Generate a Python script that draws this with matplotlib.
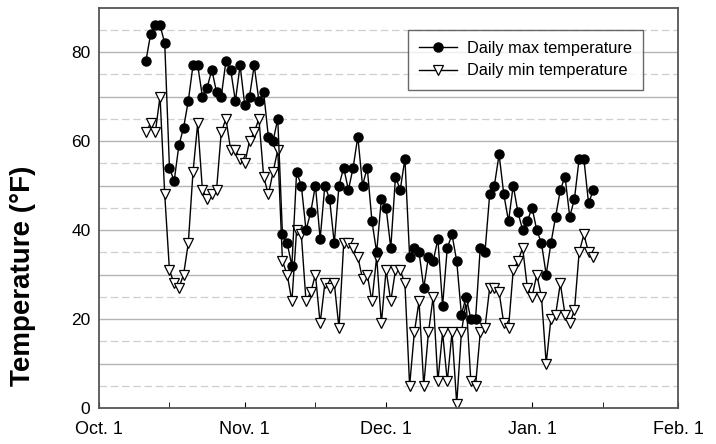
"""Daily max / min air temperature, Oct 1 through Feb 1."""
import datetime as dt

import matplotlib
matplotlib.use("Agg")
import matplotlib.pyplot as plt

plt.rcParams["font.family"] = ["Liberation Sans", "DejaVu Sans"]

# first record is Oct 11, one record per day after that
START = dt.date(2001, 10, 11)

tmax = [78, 84, 86, 86, 82, 54, 51, 59, 63, 69,
        77, 77, 70, 72, 76, 71, 70, 78, 76, 69,
        77, 68, 70, 77, 69, 71, 61, 60, 65, 39,
        37, 32, 53, 50, 40, 44, 50, 38, 50, 47,
        37, 50, 54, 49, 54, 61, 50, 54, 42, 35,
        47, 45, 36, 52, 49, 56, 34, 36, 35, 27,
        34, 33, 38, 23, 36, 39, 33, 21, 25, 20,
        20, 36, 35, 48, 50, 57, 48, 42, 50, 44,
        40, 42, 45, 40, 37, 30, 37, 43, 49, 52,
        43, 47, 56, 56, 46, 49]

tmin = [62, 64, 62, 70, 48, 31, 28, 27, 30, 37,
        53, 64, 49, 47, 48, 49, 62, 65, 58, 58,
        56, 55, 60, 62, 65, 52, 48, 53, 58, 33,
        30, 24, 40, 39, 24, 26, 30, 19, 28, 27,
        28, 18, 37, 37, 36, 34, 29, 30, 24, 34,
        19, 31, 24, 31, 31, 28, 5, 17, 24, 5,
        17, 25, 6, 17, 6, 17, 1, 17, 24, 6,
        5, 17, 18, 27, 27, 26, 19, 18, 31, 33,
        36, 27, 25, 30, 25, 10, 20, 21, 28, 21,
        19, 22, 35, 39, 35, 34]

days = [START + dt.timedelta(days=i) for i in range(len(tmax))]

month_ticks = [dt.date(2001, 10, 1), dt.date(2001, 11, 1), dt.date(2001, 12, 1),
               dt.date(2002, 1, 1), dt.date(2002, 2, 1)]
month_labels = ["Oct. 1", "Nov. 1", "Dec. 1", "Jan. 1", "Feb. 1"]
mid_ticks = [dt.date(2001, 10, 16), dt.date(2001, 11, 16), dt.date(2001, 12, 16),
             dt.date(2002, 1, 16)]

fig = plt.figure(figsize=(7.16, 4.44), dpi=100)
ax = fig.add_axes([0.138, 0.081, 0.809, 0.902])

# grid: solid every 10 F, dashed at the 5s
for y in range(10, 90, 10):
    ax.axhline(y, color="#b4b4b4", lw=1.0, zorder=0)
for y in range(5, 90, 10):
    ax.axhline(y, color="#cfcfcf", lw=0.9, ls=(0, (6, 3)), zorder=0)

ax.plot(days, tmax, "-", color="black", lw=1.0, marker="o", ms=6.5,
        mfc="black", mec="black", label="Daily max temperature", zorder=3)
ax.plot(days, tmin, "-", color="black", lw=1.0, marker="v", ms=7.5,
        mfc="white", mec="black", mew=0.9, label="Daily min temperature", zorder=2)

ax.set_xlim(month_ticks[0], month_ticks[-1])
ax.set_ylim(0, 90)
ax.set_xticks(month_ticks)
ax.set_xticklabels(month_labels)
ax.set_xticks(mid_ticks, minor=True)
ax.set_yticks([0, 20, 40, 60, 80])

ax.tick_params(axis="x", which="both", direction="in", length=4, labelsize=13, pad=9)
ax.tick_params(axis="y", which="both", direction="in", length=0, labelsize=12.5, pad=6)

for sp in ax.spines.values():
    sp.set_color("#555555")
    sp.set_linewidth(1.3)

ax.set_ylabel("Temperature (°F)", fontsize=20, fontweight="bold")
ax.yaxis.set_label_coords(-0.108, 0.33)

leg = ax.legend(loc="upper left", bbox_to_anchor=(0.533, 0.945), fontsize=11.8,
                frameon=True, fancybox=False, edgecolor="#444444",
                handlelength=2.3, handletextpad=0.6, borderpad=0.7,
                labelspacing=0.45, borderaxespad=0)
leg.get_frame().set_linewidth(1.0)

fig.savefig("out.png", dpi=100)
